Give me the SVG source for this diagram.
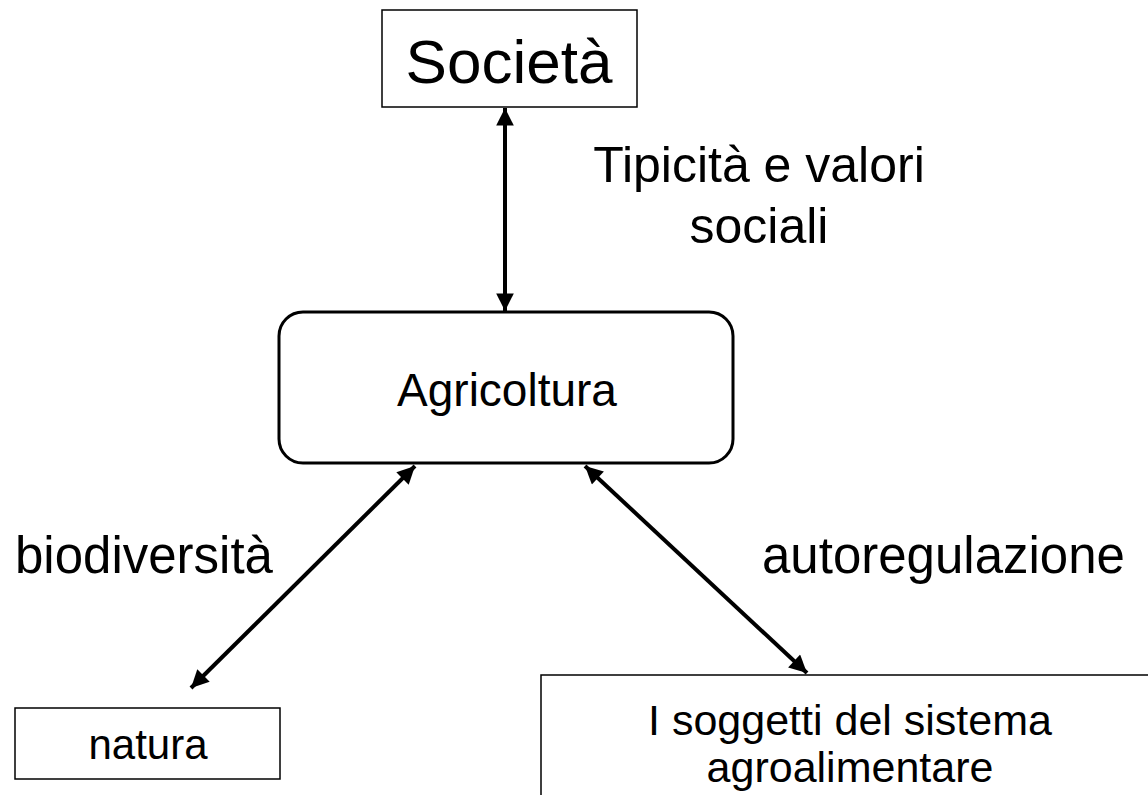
<svg xmlns="http://www.w3.org/2000/svg" width="1148" height="795" viewBox="0 0 1148 795">
<style>
  text { font-family: "Liberation Sans", Arial, sans-serif; fill: #000; }
  .box { fill: #fff; stroke: #000; stroke-width: 1.5; }
  .rbox { fill: #fff; stroke: #000; stroke-width: 3; }
  .conn { stroke: #000; stroke-width: 4; fill: none; marker-start: url(#ah); marker-end: url(#ah); }
</style>
<defs>
  <marker id="ah" viewBox="0 0 10 10" refX="10" refY="5" markerWidth="4.8" markerHeight="4.4" orient="auto-start-reverse" markerUnits="strokeWidth">
    <path d="M0,0 L10,5 L0,10 Z" fill="#000"/>
  </marker>
</defs>
<rect width="1148" height="795" fill="#fff"/>
<g id="connectors">
  <line class="conn" x1="505" y1="108" x2="505" y2="311"/>
  <line class="conn" x1="415" y1="466" x2="191" y2="688"/>
  <line class="conn" x1="585" y1="466" x2="807" y2="673"/>
</g>
<g id="societa">
  <rect class="box" x="382" y="10" width="255" height="97"/>
  <text x="509" y="83" font-size="62" text-anchor="middle">Società</text>
</g>
<g id="agricoltura">
  <rect class="rbox" x="279" y="312" width="454" height="151" rx="24" ry="24"/>
  <text x="507" y="406" font-size="46" text-anchor="middle">Agricoltura</text>
</g>
<g id="natura">
  <rect class="box" x="15" y="708" width="265" height="71"/>
  <text x="148" y="759" font-size="42" text-anchor="middle">natura</text>
</g>
<g id="soggetti">
  <rect class="box" x="541" y="675" width="620" height="160"/>
  <text x="850" y="735" font-size="43" text-anchor="middle">I soggetti del sistema</text>
  <text x="850" y="782" font-size="43" text-anchor="middle">agroalimentare</text>
</g>
<g id="labels">
  <text x="759" y="182" font-size="50" text-anchor="middle">Tipicità e valori</text>
  <text x="759" y="243" font-size="50" text-anchor="middle">sociali</text>
  <text x="15" y="573" font-size="51">biodiversità</text>
  <text x="762" y="573" font-size="51">autoregulazione</text>
</g>
</svg>
